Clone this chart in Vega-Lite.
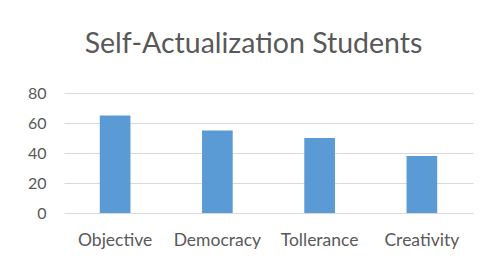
{
  "$schema": "https://vega.github.io/schema/vega-lite/v6.json",
  "autosize": "none",
  "width": 409,
  "height": 120,
  "padding": {"left": 64, "top": 93, "right": 11, "bottom": 48},
  "background": "white",
  "title": {
    "text": "Self-Actualization Students",
    "font": "Lato",
    "fontSize": 28.5,
    "fontWeight": "normal",
    "color": "#595959",
    "anchor": "middle",
    "frame": "group",
    "baseline": "alphabetic",
    "offset": 4,
    "dx": -15
  },
  "data": {
    "values": [
      {"category": "Objective", "value": 65},
      {"category": "Democracy", "value": 55},
      {"category": "Tollerance", "value": 50},
      {"category": "Creativity", "value": 38}
    ]
  },
  "mark": {"type": "bar", "color": "#5b9bd5"},
  "encoding": {
    "x": {
      "field": "category",
      "type": "nominal",
      "sort": null,
      "scale": {"paddingInner": 0.7, "paddingOuter": 0.35},
      "axis": {
        "title": null,
        "labelAngle": 0,
        "ticks": false,
        "domain": false,
        "labelPadding": 18,
        "labelFont": "Lato",
        "labelFontSize": 17.5,
        "labelColor": "#595959"
      }
    },
    "y": {
      "field": "value",
      "type": "quantitative",
      "scale": {"domain": [0, 80]},
      "axis": {
        "title": null,
        "values": [0, 20, 40, 60, 80],
        "ticks": false,
        "domain": false,
        "labelPadding": 18,
        "labelFont": "Lato",
        "labelFontSize": 16,
        "labelColor": "#595959",
        "gridColor": "#d9d9d9",
        "gridWidth": 1
      }
    }
  },
  "config": {"view": {"stroke": null}}
}
